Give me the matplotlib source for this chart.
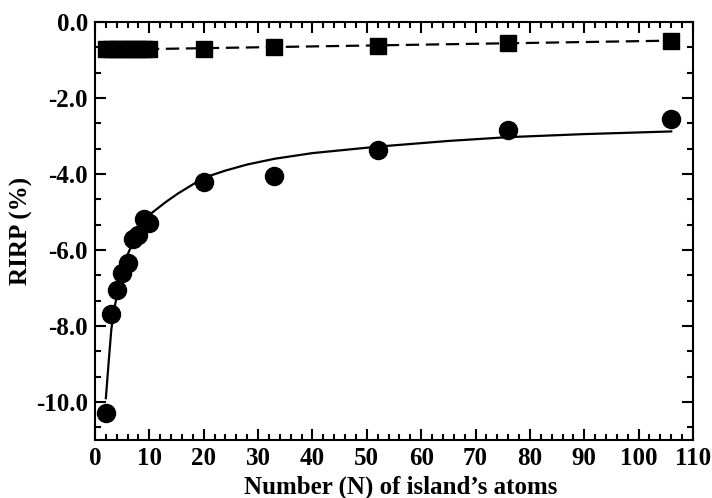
import numpy as np
import matplotlib
matplotlib.use("Agg")
import matplotlib.pyplot as plt
from matplotlib.ticker import MultipleLocator, AutoMinorLocator, FuncFormatter

plt.rcParams['font.family'] = ['Liberation Serif', 'DejaVu Serif']
plt.rcParams['font.weight'] = 'bold'
plt.rcParams['axes.unicode_minus'] = False

# circles (RIRP vs island size)
n_circ = [2, 3, 4, 5, 6, 7, 8, 9, 10, 20, 33, 52, 76, 106]
rirp_circ = [-10.28, -7.69, -7.05, -6.6, -6.35, -5.72, -5.6, -5.18, -5.29,
             -4.2, -4.04, -3.37, -2.84, -2.56]

# solid fit curve
n_fit = [2, 2.5, 3, 3.5, 4, 5, 6, 8, 10.4, 13, 15.3, 20, 24, 28, 33, 40, 52, 65, 76, 90, 106]
rirp_fit = [-9.9, -8.98, -8.1, -7.58, -7.23, -6.6, -6.12, -5.47, -5.03, -4.74, -4.51,
            -4.1, -3.91, -3.75, -3.6, -3.45, -3.28, -3.13, -3.03, -2.95, -2.88]

# squares
n_sq = [2, 3, 4, 5, 6, 7, 8, 9, 10, 20, 33, 52, 76, 106]
rirp_sq = [-0.72, -0.72, -0.72, -0.72, -0.72, -0.72, -0.72, -0.72, -0.72,
           -0.72, -0.65, -0.62, -0.56, -0.49]

# dashed fit line
n_line = [2, 106]
rirp_line = [-0.73, -0.49]

fig = plt.figure(figsize=(7.12, 4.98), dpi=100)
ax = fig.add_axes([0.1334, 0.1165, 0.8399, 0.8393])

ax.plot(n_line, rirp_line, color='black', lw=1.6, ls=(0, (6, 3)))
ax.plot(n_sq, rirp_sq, 's', color='black', ms=11.5)
ax.plot(n_fit, rirp_fit, color='black', lw=1.6)
ax.plot(n_circ, rirp_circ, 'o', color='black', ms=13)

ax.set_xlim(0, 110)
ax.set_ylim(-11, 0)
ax.xaxis.set_major_locator(MultipleLocator(10))
ax.xaxis.set_minor_locator(MultipleLocator(2))
ax.yaxis.set_major_locator(MultipleLocator(2))
ax.yaxis.set_minor_locator(AutoMinorLocator(3))
ax.yaxis.set_major_formatter(FuncFormatter(lambda v, p: '%.1f' % v))

ax.tick_params(which='both', direction='in', top=True, right=True, width=1.5,
               labelsize=18, pad=5)
ax.tick_params(which='major', length=8)
ax.tick_params(which='minor', length=4)
for s in ax.spines.values():
    s.set_linewidth(1.5)

ax.set_xlabel('Number (N) of island\u2019s atoms', fontsize=18, fontweight='bold', labelpad=3)
ax.xaxis.set_label_coords(0.512, -0.085)
ax.set_ylabel('RIRP (%)', fontsize=18, fontweight='bold', labelpad=2)

fig.savefig('out.png', dpi=100)
